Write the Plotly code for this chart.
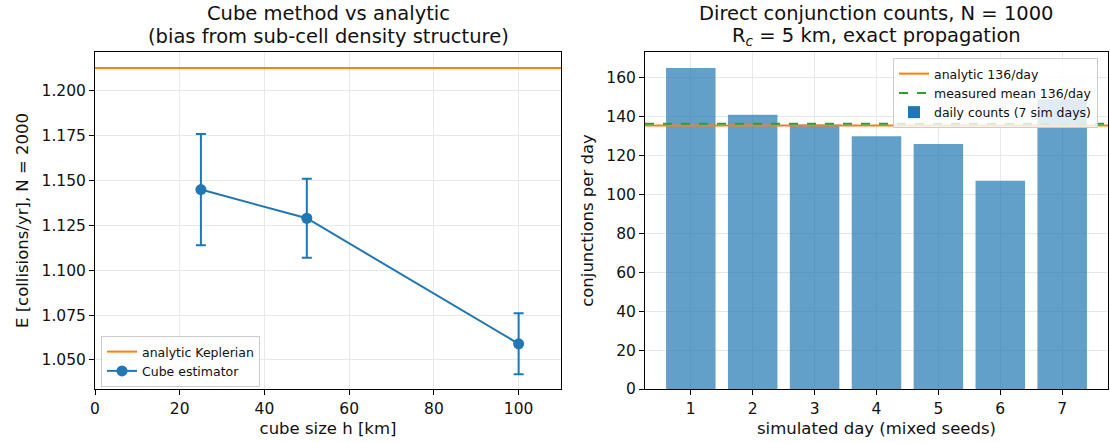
import plotly.graph_objects as go

# Left panel data
cube_h = [25, 50, 100]
cube_E = [1.145, 1.129, 1.059]
cube_err = [0.031, 0.022, 0.017]
analytic_E = 1.2128

# Right panel data
days = [1, 2, 3, 4, 5, 6, 7]
counts = [165, 141, 136, 130, 126, 107, 149]
analytic_rate = 135.4
measured_mean = 136.3

BLUE = "#1f77b4"
ORANGE = "#ff7f0e"
GREEN = "#2ca02c"
FONT = "DejaVu Sans"

W, H = 1110, 443
def fx(px): return px / W
def fy(py): return 1 - py / H

fig = go.Figure()

# left
fig.add_trace(go.Scatter(x=[0, 110], y=[analytic_E, analytic_E], mode="lines",
                         line=dict(color=ORANGE, width=2), name="analytic Keplerian",
                         xaxis="x", yaxis="y", legend="legend", legendrank=1))
fig.add_trace(go.Scatter(x=cube_h, y=cube_E, mode="lines+markers",
                         line=dict(color=BLUE, width=2), marker=dict(size=11, color=BLUE),
                         error_y=dict(type="data", array=cube_err, color=BLUE, thickness=2, width=5),
                         name="Cube estimator", xaxis="x", yaxis="y", legend="legend", legendrank=2))

# right
fig.add_trace(go.Bar(x=days, y=counts, width=0.8, marker=dict(color=BLUE, opacity=0.7, line=dict(width=0)),
                     name="daily counts (7 sim days)", xaxis="x2", yaxis="y2", legend="legend2",
                     legendrank=3))
fig.add_trace(go.Scatter(x=[0.26, 7.74], y=[analytic_rate, analytic_rate], mode="lines",
                         line=dict(color=ORANGE, width=2), name="analytic 136/day",
                         xaxis="x2", yaxis="y2", legend="legend2", legendrank=1))
fig.add_trace(go.Scatter(x=[0.26, 7.74], y=[measured_mean, measured_mean], mode="lines",
                         line=dict(color=GREEN, width=2, dash="dash"), name="measured mean 136/day",
                         xaxis="x2", yaxis="y2", legend="legend2", legendrank=2))

axis_common = dict(showline=True, linecolor="black", linewidth=1, mirror=True,
                   ticks="outside", ticklen=5, tickcolor="black", automargin=False,
                   showgrid=True, gridcolor="#e8e8e8", gridwidth=1, zeroline=False,
                   tickfont=dict(family=FONT, size=15.5, color="#111111"))
title_font = dict(family=FONT, size=16.5, color="#111111")

fig.update_layout(
    width=W, height=H,
    margin=dict(l=0, r=0, t=0, b=0),
    paper_bgcolor="white", plot_bgcolor="white",
    font=dict(family=FONT, color="#111111"),
    xaxis=dict(domain=[fx(95), fx(561)], range=[0, 110], dtick=20, anchor="y",
               title=dict(text="cube size h [km]", font=title_font, standoff=5), **axis_common),
    yaxis=dict(domain=[fy(389), fy(52)], range=[1.0338, 1.2217], dtick=0.025, tickformat=".3f",
               anchor="x", title=dict(text="E [collisions/yr], N = 2000", font=title_font, standoff=8),
               **axis_common),
    xaxis2=dict(domain=[fx(645), fx(1108)], range=[0.26, 7.74], tickvals=days, anchor="y2",
                title=dict(text="simulated day (mixed seeds)", font=title_font, standoff=5), **axis_common),
    yaxis2=dict(domain=[fy(389), fy(52)], range=[0, 173.25], dtick=20, anchor="x2",
                title=dict(text="conjunctions per day", font=title_font, standoff=8), **axis_common),
    legend=dict(x=fx(101), y=fy(336), xanchor="left", yanchor="top",
                bgcolor="rgba(255,255,255,0.8)", bordercolor="#cccccc", borderwidth=1,
                font=dict(family=FONT, size=12.5), tracegroupgap=0),
    legend2=dict(x=fx(893), y=fy(58), xanchor="left", yanchor="top",
                 bgcolor="rgba(255,255,255,0.8)", bordercolor="#cccccc", borderwidth=1,
                 font=dict(family=FONT, size=12.5), tracegroupgap=0, traceorder="normal"),
    annotations=[
        dict(text="Cube method vs analytic", x=fx(328), y=fy(14), xref="paper", yref="paper",
             xanchor="center", yanchor="middle", showarrow=False, font=dict(family=FONT, size=19.5)),
        dict(text="(bias from sub-cell density structure)", x=fx(328), y=fy(37), xref="paper", yref="paper",
             xanchor="center", yanchor="middle", showarrow=False, font=dict(family=FONT, size=19.5)),
        dict(text="Direct conjunction counts, N = 1000", x=fx(876), y=fy(14), xref="paper", yref="paper",
             xanchor="center", yanchor="middle", showarrow=False, font=dict(family=FONT, size=19.5)),
        dict(text="R<sub><i>c</i></sub> = 5 km, exact propagation", x=fx(876), y=fy(37), xref="paper",
             yref="paper", xanchor="center", yanchor="middle", showarrow=False,
             font=dict(family=FONT, size=19.5)),
    ],
    showlegend=True,
)

fig.write_html("out.html", config={"displayModeBar": False},
               post_script="document.body.style.margin='0';")
